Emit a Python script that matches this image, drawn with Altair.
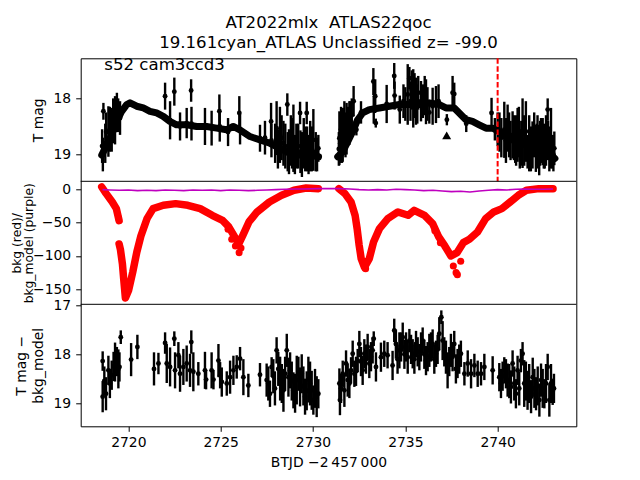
import altair as alt
import pandas as pd

# ---------------- data ----------------
# Panel 1: dense light curve band (T mag) — two orbits
band1 = [(2718.56, 19.01), (2718.83, 18.83), (2719.10, 18.65), (2719.37, 18.41), (2719.64, 18.23),
         (2719.91, 18.11), (2720.09, 18.08), (2720.45, 18.14), (2720.81, 18.17), (2721.17, 18.23),
         (2721.53, 18.26), (2721.89, 18.32), (2722.25, 18.41), (2722.61, 18.47), (2723.15, 18.47),
         (2723.70, 18.50), (2724.24, 18.50), (2724.78, 18.53), (2725.32, 18.56), (2725.68, 18.50),
         (2726.04, 18.56), (2726.59, 18.68), (2727.13, 18.74), (2727.67, 18.80), (2728.21, 18.89),
         (2728.75, 18.98), (2729.29, 19.01), (2729.83, 19.01), (2730.30, 19.04)]
band2 = [(2731.34, 19.04), (2731.61, 18.95), (2731.88, 18.77), (2732.15, 18.59), (2732.42, 18.38),
         (2732.69, 18.26), (2733.05, 18.20), (2733.60, 18.17), (2734.14, 18.14), (2734.68, 18.11),
         (2735.22, 18.11), (2735.76, 18.11), (2736.30, 18.08), (2736.84, 18.11), (2737.20, 18.17),
         (2737.65, 18.17), (2737.92, 18.26), (2738.28, 18.38), (2738.64, 18.41), (2739.00, 18.47),
         (2739.37, 18.53), (2739.73, 18.53), (2740.09, 18.59), (2740.45, 18.68), (2740.81, 18.74),
         (2741.17, 18.80), (2741.53, 18.83), (2741.89, 18.86), (2742.25, 18.89), (2742.61, 18.92),
         (2743.10, 19.07)]

# Panel 1: points with error bars (time, mag, error)
tmag_err = [
    (2718.58, 18.85, 0.30), (2718.62, 19.00, 0.30), (2718.65, 18.23, 0.15), (2718.75, 18.80, 0.35),
    (2718.80, 18.60, 0.35), (2718.92, 18.59, 0.45), (2719.00, 18.55, 0.40), (2719.10, 18.56, 0.39),
    (2719.18, 18.40, 0.40), (2719.28, 18.39, 0.43), (2719.38, 18.25, 0.35), (2719.45, 18.30, 0.30),
    (2719.55, 18.35, 0.30),
    (2721.99, 17.96, 0.24), (2722.26, 18.39, 0.34), (2722.49, 17.88, 0.25), (2722.80, 18.50, 0.25),
    (2723.16, 18.44, 0.27), (2723.40, 17.86, 0.20), (2723.42, 18.45, 0.30), (2724.15, 18.50, 0.33),
    (2724.51, 18.53, 0.31), (2724.93, 18.23, 0.30), (2724.95, 18.50, 0.27), (2725.40, 18.60, 0.25),
    (2726.01, 18.26, 0.30), (2726.05, 18.55, 0.27), (2727.13, 18.71, 0.24), (2727.40, 18.70, 0.30),
    (2727.73, 18.41, 0.33), (2727.75, 18.75, 0.30), (2727.95, 18.80, 0.35), (2728.03, 18.53, 0.48),
    (2728.10, 18.90, 0.35), (2728.21, 18.65, 0.50), (2728.30, 18.70, 0.40), (2728.40, 18.80, 0.40),
    (2728.50, 18.85, 0.40), (2728.61, 18.11, 0.20), (2728.63, 18.95, 0.35), (2728.70, 18.95, 0.40),
    (2728.80, 18.75, 0.45), (2728.87, 18.80, 0.45), (2728.94, 18.71, 0.60), (2729.02, 19.00, 0.35),
    (2729.10, 18.85, 0.40), (2729.20, 18.85, 0.40), (2729.30, 18.26, 0.20), (2729.32, 18.95, 0.38),
    (2729.40, 19.00, 0.40), (2729.50, 18.80, 0.45), (2729.58, 18.90, 0.40), (2729.66, 18.26, 0.20),
    (2729.68, 18.90, 0.40), (2729.76, 19.00, 0.35), (2729.85, 18.85, 0.45), (2729.94, 18.90, 0.40),
    (2730.02, 18.74, 0.55), (2730.15, 18.95, 0.35), (2730.22, 19.00, 0.30), (2730.29, 18.89, 0.24),
    (2731.40, 18.90, 0.30), (2731.43, 18.71, 0.48), (2731.48, 18.80, 0.35), (2731.52, 18.55, 0.40),
    (2731.57, 18.75, 0.40), (2731.61, 18.65, 0.48), (2731.66, 18.60, 0.40), (2731.70, 18.45, 0.40),
    (2731.76, 18.65, 0.40), (2731.82, 18.54, 0.46), (2731.90, 18.50, 0.35), (2731.97, 18.44, 0.39),
    (2732.02, 18.40, 0.35), (2732.10, 18.30, 0.30), (2732.20, 18.05, 0.27), (2732.35, 18.56, 0.10),
    (2732.60, 18.25, 0.20), (2733.27, 17.70, 0.24), (2733.29, 18.20, 0.25), (2733.37, 17.96, 0.30),
    (2733.40, 18.44, 0.08), (2733.99, 18.10, 0.34), (2734.40, 17.60, 0.23), (2734.42, 17.95, 0.25),
    (2734.70, 18.20, 0.25), (2734.90, 18.05, 0.30), (2735.00, 18.10, 0.30), (2735.13, 17.93, 0.54),
    (2735.22, 17.64, 0.20), (2735.28, 18.05, 0.35), (2735.35, 17.85, 0.35), (2735.43, 18.00, 0.52),
    (2735.50, 17.95, 0.40), (2735.58, 18.05, 0.42), (2735.65, 18.10, 0.35), (2735.70, 17.90, 0.30),
    (2735.85, 18.05, 0.36), (2735.95, 18.05, 0.30), (2736.05, 17.95, 0.35), (2736.12, 18.06, 0.40),
    (2736.20, 18.10, 0.30), (2736.30, 18.25, 0.20), (2736.48, 18.14, 0.33), (2736.66, 18.11, 0.33),
    (2736.80, 18.05, 0.30), (2737.25, 18.38, 0.10), (2737.56, 17.90, 0.30), (2737.65, 17.92, 0.20),
    (2738.30, 18.45, 0.15), (2739.67, 18.26, 0.27), (2739.85, 18.55, 0.20), (2740.00, 18.55, 0.30),
    (2740.10, 18.60, 0.35), (2740.20, 18.70, 0.35), (2740.36, 18.56, 0.50), (2740.45, 18.75, 0.40),
    (2740.54, 18.53, 0.42), (2740.62, 18.65, 0.40), (2740.70, 18.75, 0.35), (2740.81, 18.65, 0.42),
    (2740.88, 18.70, 0.40), (2740.95, 18.85, 0.30), (2741.00, 18.75, 0.45), (2741.08, 18.65, 0.48),
    (2741.15, 18.60, 0.45), (2741.20, 18.90, 0.35), (2741.28, 18.80, 0.40), (2741.35, 18.62, 0.62),
    (2741.44, 18.75, 0.45), (2741.53, 18.59, 0.54), (2741.62, 18.95, 0.30), (2741.71, 18.80, 0.50),
    (2741.80, 18.90, 0.40), (2741.89, 18.83, 0.42), (2741.98, 18.65, 0.40), (2742.07, 18.89, 0.42),
    (2742.12, 18.85, 0.40), (2742.16, 18.70, 0.40), (2742.25, 18.92, 0.45), (2742.30, 18.80, 0.40),
    (2742.35, 18.75, 0.40), (2742.44, 18.77, 0.42), (2742.50, 18.85, 0.40), (2742.55, 18.95, 0.30),
    (2742.62, 18.75, 0.45), (2742.71, 18.20, 0.20), (2742.73, 18.75, 0.35), (2742.80, 18.90, 0.40),
    (2742.89, 18.71, 0.54), (2742.98, 18.95, 0.30), (2743.02, 19.00, 0.30), (2743.07, 18.89, 0.30)]
triangle_pt = [(2737.24, 18.66)]
label_txt = [(2718.70, 17.49, "s52 cam3ccd3")]
vline_t = [2740.0]

# Panel 2: background (red) in three runs, and model (purple)
bkg_a = [(2718.56, 3.5), (2718.80, -6.5), (2719.13, -19.0), (2719.35, -29.0), (2719.50, -47.0)]
bkg_b = [(2719.50, -82.0), (2719.57, -90.0), (2719.68, -112.0), (2719.75, -135.0), (2719.84, -163.0),
         (2720.01, -152.0), (2720.24, -124.0), (2720.46, -94.0), (2720.68, -70.0), (2721.01, -44.0),
         (2721.34, -29.0), (2721.89, -24.0), (2722.56, -21.5), (2723.22, -24.0), (2723.89, -29.0),
         (2724.54, -39.0), (2725.10, -46.5), (2725.43, -56.0), (2725.76, -71.5), (2725.98, -82.0),
         (2726.20, -69.0), (2726.53, -49.0), (2726.97, -34.0), (2727.64, -19.0), (2728.30, -9.0),
         (2728.97, -1.5), (2729.63, 2.0), (2730.29, 1.0)]
bkg_c = [(2731.40, 1.0), (2731.73, -6.5), (2732.06, -19.0), (2732.28, -39.0), (2732.39, -59.0),
         (2732.50, -84.0), (2732.61, -104.0), (2732.79, -117.0), (2733.05, -104.0), (2733.28, -79.0),
         (2733.60, -59.0), (2734.05, -44.0), (2734.60, -34.0), (2735.15, -39.0), (2735.48, -31.5),
         (2736.04, -39.0), (2736.48, -51.5), (2736.81, -71.5), (2737.14, -85.0), (2737.47, -100.0),
         (2737.80, -95.0), (2738.14, -80.0), (2738.47, -75.0), (2738.91, -64.0), (2739.35, -44.0),
         (2739.79, -34.0), (2740.23, -29.0), (2740.68, -19.0), (2741.12, -9.0), (2741.56, -1.5),
         (2742.23, 1.0), (2743.00, 1.0)]
bkg_scatter = [(2725.40, -60.0), (2725.60, -75.0), (2725.80, -85.0), (2726.00, -95.0), (2726.10, -88.0),
               (2737.60, -115.0), (2737.75, -125.0), (2737.82, -128.0), (2738.00, -108.0),
               (2736.60, -62.0), (2736.90, -80.0), (2732.85, -119.0), (2719.47, -43.0)]
bkg_model = [(2718.6, -0.5), (2719.0, -1.0), (2719.5, -1.5), (2720.0, -1.0), (2720.5, -2.0), (2721.0, -1.5),
             (2721.5, -2.0), (2722.0, -1.0), (2722.5, -1.5), (2723.0, -2.0), (2723.5, -1.0), (2724.0, -1.5),
             (2724.5, -1.0), (2725.0, -2.0), (2725.5, -1.0), (2726.0, -1.5), (2726.5, -2.0), (2727.0, -1.5),
             (2727.5, -1.0), (2728.0, -0.5), (2728.5, 0.0), (2729.0, 0.5), (2729.5, 0.5), (2730.3, 1.0),
             (2731.4, 1.0), (2732.0, 0.5), (2732.5, -0.5), (2733.0, -1.0), (2733.5, -0.5), (2734.0, -1.0),
             (2734.5, 0.0), (2735.0, -0.5), (2735.5, -1.0), (2736.0, -2.0), (2736.5, -1.5), (2737.0, -2.5),
             (2737.5, -3.5), (2738.0, -3.0), (2738.5, -4.0), (2739.0, -2.5), (2739.5, -1.5), (2740.0, -0.5),
             (2740.5, -1.0), (2741.0, 0.0), (2741.5, 0.5), (2742.0, 0.0), (2742.5, 0.0), (2743.0, 0.5)]

# Panel 3: T mag - bkg_model (time, mag, error)
diff_err = [
    (2718.61, 18.87, 0.32), (2718.61, 18.14, 0.20), (2718.70, 18.55, 0.30), (2718.79, 18.81, 0.34),
    (2718.92, 18.33, 0.30), (2719.00, 18.60, 0.30), (2719.10, 18.43, 0.30), (2719.20, 18.25, 0.30),
    (2719.28, 18.16, 0.40), (2719.38, 18.15, 0.30), (2719.46, 18.30, 0.40), (2719.52, 18.26, 0.30),
    (2719.59, 17.65, 0.14), (2720.15, 18.11, 0.34), (2720.49, 17.85, 0.25), (2721.39, 18.30, 0.34),
    (2721.63, 18.19, 0.22), (2721.99, 17.77, 0.22), (2722.08, 18.19, 0.40), (2722.26, 18.26, 0.40),
    (2722.49, 17.68, 0.15), (2722.53, 18.33, 0.37), (2722.71, 18.02, 0.27), (2722.80, 18.40, 0.37),
    (2722.98, 18.26, 0.37), (2723.16, 18.19, 0.37), (2723.34, 18.33, 0.34), (2723.41, 17.75, 0.24),
    (2723.52, 18.36, 0.40), (2723.79, 18.40, 0.24), (2724.15, 18.33, 0.38), (2724.21, 18.52, 0.20),
    (2724.51, 18.33, 0.37), (2724.61, 18.52, 0.20), (2724.88, 18.13, 0.34), (2724.97, 18.43, 0.27),
    (2725.06, 18.57, 0.30), (2725.33, 18.60, 0.25), (2725.51, 18.47, 0.34), (2725.69, 18.33, 0.30),
    (2725.87, 18.26, 0.24), (2726.05, 18.09, 0.24), (2726.23, 18.47, 0.37), (2726.50, 18.64, 0.24),
    (2727.13, 18.42, 0.24), (2727.49, 18.53, 0.34), (2727.58, 18.60, 0.35), (2727.67, 18.81, 0.27),
    (2727.76, 18.26, 0.20), (2727.85, 18.45, 0.35), (2727.94, 18.70, 0.35), (2728.03, 17.92, 0.27),
    (2728.12, 18.30, 0.35), (2728.22, 18.50, 0.45), (2728.31, 18.60, 0.40), (2728.40, 18.74, 0.44),
    (2728.49, 18.40, 0.35), (2728.58, 17.92, 0.34), (2728.67, 18.47, 0.40), (2728.76, 18.33, 0.37),
    (2728.85, 18.55, 0.40), (2728.94, 18.74, 0.37), (2729.03, 18.80, 0.40), (2729.12, 18.53, 0.50),
    (2729.21, 18.40, 0.35), (2729.30, 18.67, 0.40), (2729.39, 18.40, 0.40), (2729.48, 18.65, 0.40),
    (2729.57, 18.87, 0.37), (2729.66, 18.75, 0.40), (2729.75, 18.52, 0.47), (2729.84, 18.60, 0.45),
    (2729.93, 18.74, 0.40), (2730.02, 18.94, 0.30), (2730.11, 18.70, 0.40), (2730.20, 18.87, 0.42),
    (2730.29, 18.81, 0.30),
    (2731.43, 18.60, 0.31), (2731.46, 18.94, 0.31), (2731.52, 18.70, 0.30), (2731.61, 18.40, 0.27),
    (2731.70, 18.74, 0.34), (2731.79, 18.19, 0.27), (2731.88, 18.53, 0.34), (2731.97, 18.60, 0.30),
    (2732.06, 18.33, 0.27), (2732.15, 17.99, 0.27), (2732.24, 18.40, 0.27), (2732.33, 18.35, 0.30),
    (2732.42, 18.13, 0.24), (2732.51, 17.79, 0.27), (2732.60, 18.15, 0.30), (2732.69, 18.33, 0.30),
    (2732.78, 17.99, 0.30), (2732.87, 18.10, 0.30), (2732.96, 17.85, 0.27), (2733.05, 18.19, 0.30),
    (2733.14, 18.05, 0.30), (2733.23, 17.92, 0.27), (2733.29, 17.68, 0.15), (2733.41, 18.26, 0.30),
    (2733.68, 18.06, 0.30), (2733.86, 17.99, 0.27), (2734.04, 18.02, 0.27), (2734.31, 18.23, 0.30),
    (2734.40, 17.51, 0.24), (2734.49, 17.79, 0.30), (2734.58, 18.10, 0.30), (2734.68, 17.92, 0.37),
    (2734.77, 17.85, 0.30), (2734.86, 17.65, 0.30), (2734.95, 18.00, 0.30), (2735.04, 17.85, 0.30),
    (2735.13, 18.06, 0.34), (2735.22, 17.72, 0.24), (2735.31, 17.90, 0.30), (2735.40, 17.99, 0.30),
    (2735.49, 18.10, 0.30), (2735.58, 17.79, 0.27), (2735.67, 17.95, 0.30), (2735.76, 18.06, 0.27),
    (2735.85, 17.85, 0.30), (2735.94, 17.72, 0.27), (2736.03, 18.00, 0.30), (2736.12, 18.13, 0.30),
    (2736.21, 18.05, 0.30), (2736.30, 17.92, 0.34), (2736.39, 17.85, 0.30), (2736.48, 17.79, 0.30),
    (2736.57, 18.10, 0.30), (2736.66, 17.99, 0.27), (2736.75, 17.90, 0.30), (2736.84, 17.58, 0.34),
    (2736.95, 17.24, 0.14), (2737.02, 17.72, 0.40), (2737.11, 17.95, 0.30), (2737.20, 18.06, 0.34),
    (2737.29, 18.33, 0.37), (2737.38, 18.15, 0.30), (2737.47, 17.92, 0.34), (2737.56, 18.05, 0.30),
    (2737.65, 17.79, 0.27), (2737.74, 18.30, 0.30), (2737.83, 18.19, 0.30), (2737.92, 18.10, 0.30),
    (2738.01, 17.99, 0.27), (2738.20, 18.40, 0.24), (2738.38, 18.19, 0.27), (2738.56, 18.40, 0.30),
    (2738.74, 18.23, 0.24), (2738.92, 18.40, 0.27), (2739.10, 18.40, 0.24), (2739.28, 18.26, 0.27),
    (2739.73, 18.33, 0.29), (2740.09, 18.47, 0.29), (2740.18, 18.60, 0.30), (2740.27, 18.45, 0.30),
    (2740.36, 18.33, 0.27), (2740.45, 18.40, 0.30), (2740.54, 18.53, 0.34), (2740.63, 18.55, 0.35),
    (2740.72, 18.67, 0.34), (2740.81, 18.19, 0.27), (2740.90, 18.60, 0.35), (2740.99, 18.81, 0.30),
    (2741.08, 18.33, 0.30), (2741.17, 18.70, 0.35), (2741.26, 18.13, 0.24), (2741.35, 17.99, 0.24),
    (2741.44, 18.60, 0.48), (2741.53, 18.55, 0.40), (2741.62, 18.74, 0.40), (2741.71, 18.60, 0.40),
    (2741.81, 18.87, 0.34), (2741.90, 18.47, 0.40), (2741.99, 18.70, 0.40), (2742.08, 18.81, 0.34),
    (2742.17, 18.65, 0.40), (2742.26, 18.94, 0.34), (2742.35, 18.53, 0.34), (2742.44, 18.70, 0.40),
    (2742.53, 18.81, 0.30), (2742.62, 18.60, 0.40), (2742.71, 18.26, 0.27), (2742.80, 18.94, 0.34),
    (2742.89, 18.60, 0.40), (2742.98, 18.77, 0.27), (2743.05, 18.70, 0.30)]

x_ticks = [2720, 2725, 2730, 2735, 2740]
y1_ticks = [18, 19]
y2_ticks = [0, -50, -100, -150]
y3_ticks = [17, 18, 19]

# ---------------- tables ----------------
band_df = pd.DataFrame([(t, m, 1) for t, m in band1] + [(t, m, 2) for t, m in band2], columns=["t", "m", "seg"])
p1_df = pd.DataFrame(tmag_err, columns=["t", "m", "e"])
tri_df = pd.DataFrame(triangle_pt, columns=["t", "m"])
lab_df = pd.DataFrame(label_txt, columns=["t", "m", "txt"])
vl_df = pd.DataFrame({"t": vline_t})
bkg_df = pd.DataFrame([(t, v, "a") for t, v in bkg_a] + [(t, v, "b") for t, v in bkg_b]
                      + [(t, v, "c") for t, v in bkg_c], columns=["t", "v", "seg"])
bsc_df = pd.DataFrame(bkg_scatter, columns=["t", "v"])
mod_df = pd.DataFrame(bkg_model, columns=["t", "v"])
p3_df = pd.DataFrame(diff_err, columns=["t", "m", "e"])

# ---------------- layout ----------------
W = 495.6
H1, H2, H3 = 123, 123, 122
TOP2, TOP3, BOT = H1, H1 + H2, H1 + H2 + H3
FONT = "DejaVu Sans"
FS = 13.9

xs = alt.Scale(domain=[2717.42, 2744.26], nice=False, zero=False)
xax = alt.Axis(values=x_ticks, format="d", title="BTJD \u22122\u2009457\u2009000", grid=False,
               tickSize=5, labelPadding=4, titlePadding=6)


def X(field="t"):
    return alt.X(field, type="quantitative", scale=xs, axis=xax)


s1 = alt.Scale(domain=[17.286, 19.477], range=[0, H1], nice=False, zero=False)
s2 = alt.Scale(domain=[-172.5, 12], range=[TOP3, TOP2], nice=False, zero=False)
s3 = alt.Scale(domain=[16.975, 19.478], range=[TOP3, BOT], nice=False, zero=False)

ax1 = alt.Axis(orient="left", values=y1_ticks, title="T mag", grid=False, tickSize=5, labelPadding=5,
               titlePadding=8)
ax2 = alt.Axis(orient="left", values=y2_ticks, title=["bkg (red)/", "bkg_model (purple)"], grid=False,
               tickSize=5, labelPadding=5, titleX=-57.5, titleY=TOP2 + H2 / 2, titleAngle=270,
               titleAlign="center", titleBaseline="bottom", titleFontSize=12.3, titleLineHeight=12.6)
ax3 = alt.Axis(orient="left", values=y3_ticks, title=["T mag \u2212", "bkg_model"], grid=False,
               tickSize=5, labelPadding=5, titlePadding=8, titleLineHeight=16.5)


def Y1(f):
    return alt.Y(f, type="quantitative", scale=s1, axis=ax1)


def Y2(f):
    return alt.Y(f, type="quantitative", scale=s2, axis=ax2)


def Y3(f):
    return alt.Y(f, type="quantitative", scale=s3, axis=ax3)


# ---- panel 1
band = alt.Chart(band_df).mark_line(color="black", strokeWidth=7, strokeCap="round", strokeJoin="round").encode(
    x=X(), y=Y1("m"), detail="seg:N")
bars1 = alt.Chart(p1_df).transform_calculate(lo="datum.m - datum.e", hi="datum.m + datum.e").mark_rule(
    color="black", strokeWidth=2.4).encode(x=X(), y=Y1("lo"), y2="hi:Q")
dots1 = alt.Chart(p1_df).mark_circle(color="black", size=24, opacity=1).encode(x=X(), y=Y1("m"))
tri = alt.Chart(tri_df).mark_point(shape="triangle-up", filled=True, color="black", size=80, opacity=1).encode(
    x=X(), y=Y1("m"))
lab = alt.Chart(lab_df).mark_text(align="left", baseline="alphabetic", font=FONT, fontSize=16.6,
                                  color="black").encode(x=X(), y=Y1("m"), text="txt:N")
vline = alt.Chart(vl_df).mark_rule(color="#ff0000", strokeWidth=2, strokeDash=[5.5, 2.4]).encode(
    x=X(), y=alt.value(0), y2=alt.value(H1))
panel1 = alt.layer(band, bars1, dots1, tri, vline, lab)

# ---- panel 2
red = alt.Chart(bkg_df).mark_line(color="#ff0000", strokeWidth=7.5, strokeCap="round", strokeJoin="round").encode(
    x=X(), y=Y2("v"), detail="seg:N")
reds = alt.Chart(bsc_df).mark_circle(color="#ff0000", size=50, opacity=1).encode(x=X(), y=Y2("v"))
purple = alt.Chart(mod_df).mark_line(color="#bf00bf", strokeWidth=1.6).encode(x=X(), y=Y2("v"))
panel2 = alt.layer(red, reds, purple)

# ---- panel 3
bars3 = alt.Chart(p3_df).transform_calculate(lo="datum.m - datum.e", hi="datum.m + datum.e").mark_rule(
    color="black", strokeWidth=2.4).encode(x=X(), y=Y3("lo"), y2="hi:Q")
dots3 = alt.Chart(p3_df).mark_circle(color="black", size=24, opacity=1).encode(x=X(), y=Y3("m"))
panel3 = alt.layer(bars3, dots3)

# ---- panel separators
sep_df = pd.DataFrame({"k": [0]})
sep1 = alt.Chart(sep_df).mark_rule(color="black", strokeWidth=1).encode(
    x=alt.value(0), x2=alt.value(W), y=alt.value(TOP2))
sep2 = alt.Chart(sep_df).mark_rule(color="black", strokeWidth=1).encode(
    x=alt.value(0), x2=alt.value(W), y=alt.value(TOP3))

chart = alt.layer(panel1, panel2, panel3, sep1, sep2).resolve_scale(y="independent").resolve_axis(
    y="independent").properties(
    width=W, height=BOT,
    autosize=alt.AutoSizeParams(type="none"),
    padding={"left": 72.7, "top": 50.3, "right": 55.7, "bottom": 45.7},
    title=alt.TitleParams(text=["AT2022mlx\u00a0\u00a0ATLAS22qoc", "19.161cyan_ATLAS Unclassified z= -99.0"],
                          font=FONT, fontSize=16.6, fontWeight="normal", color="black",
                          anchor="middle", lineHeight=20, offset=5),
).configure(font=FONT).configure_view(stroke="black", strokeWidth=1).configure_axis(
    labelFont=FONT, labelFontSize=FS, titleFont=FONT, titleFontSize=FS, titleFontWeight="normal",
    labelColor="black", titleColor="black", tickColor="black", tickWidth=1, grid=False, domain=False
)

chart.save("out.html", embed_options={"renderer": "svg", "actions": False})
